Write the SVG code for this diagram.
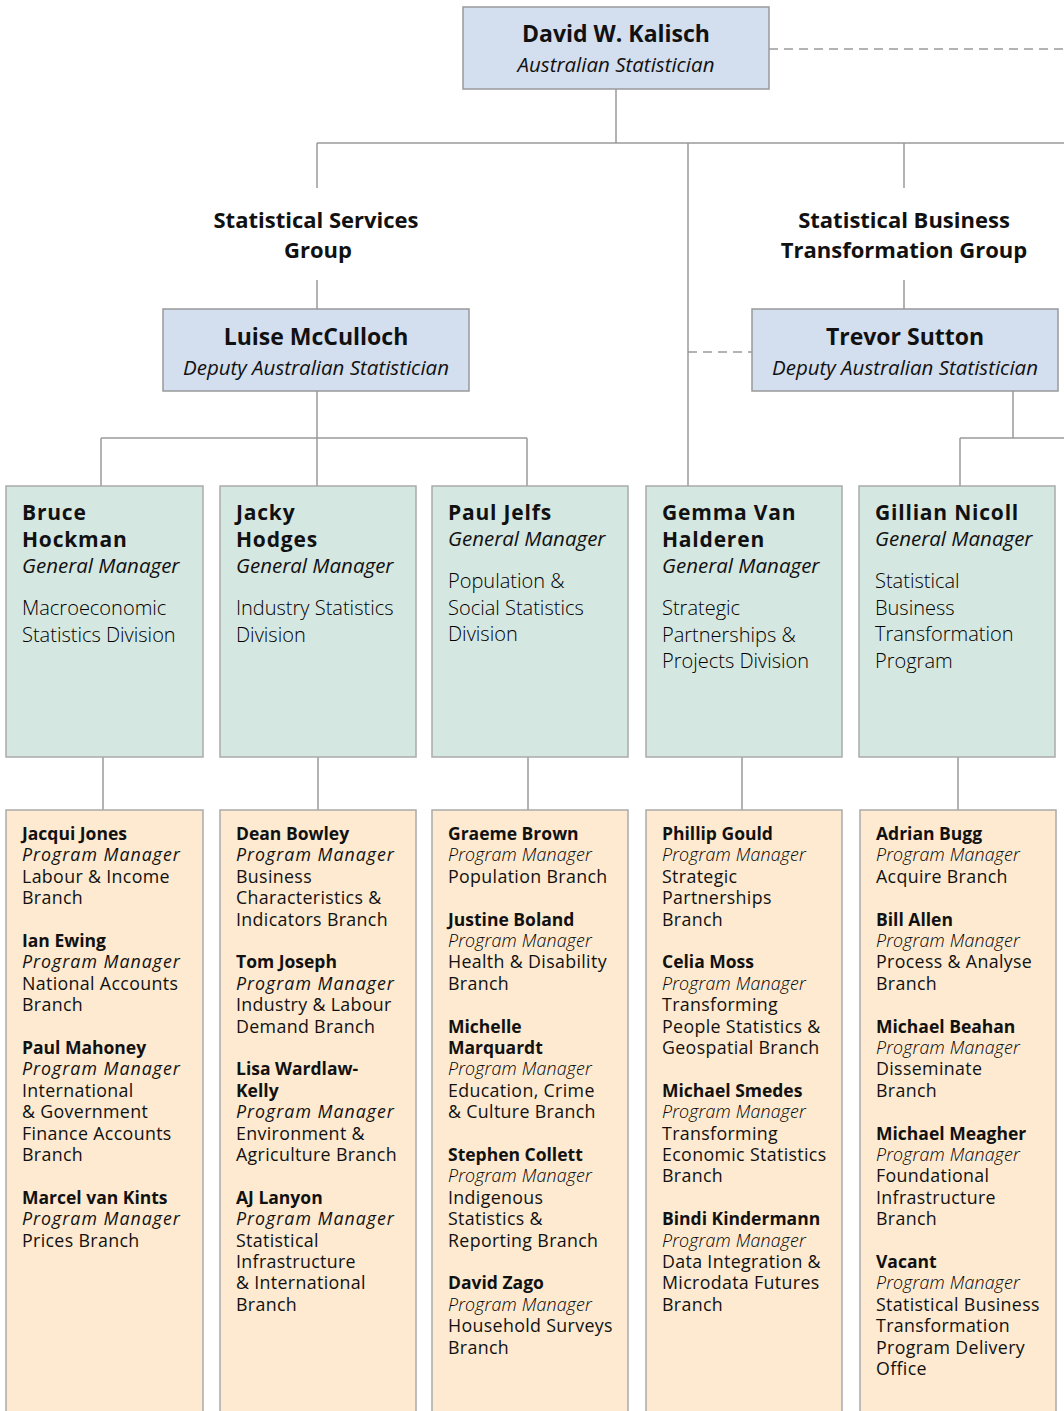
<svg xmlns="http://www.w3.org/2000/svg" width="1064" height="1411" viewBox="0 0 1064 1411">
  <style>
    text { font-family: "Open Sans", "Noto Sans", "Liberation Sans", sans-serif; fill: #111; }
    .exec { fill: #d3deee; stroke: #999; stroke-width: 1.5; }
    .gm { fill: #d5e7e1; stroke: #aaa; stroke-width: 1.5; }
    .pm { fill: #fdead0; stroke: #aaa; stroke-width: 1.5; }
    .line { stroke: #9a9a9a; stroke-width: 1.5; fill: none; }
    .dash { stroke: #9a9a9a; stroke-width: 1.5; fill: none; stroke-dasharray: 9 6; }
    .ename { font-size: 23px; font-weight: 700; text-anchor: middle; }
    .erole { font-size: 20.5px; font-style: italic; text-anchor: middle; }
    .group { font-size: 22px; font-weight: 700; text-anchor: middle; }
    .gname { font-size: 21px; font-weight: 700; letter-spacing: 0.8px; }
    .grole { font-size: 20.5px; font-style: italic; }
    .gdesc { font-size: 20px; font-weight: 300; fill: #000; }
    .b { font-size: 17.8px; letter-spacing: 0.35px; }
    .b .n { font-weight: 700; font-size: 17.5px; letter-spacing: 0; }
    .b .r { font-style: italic; letter-spacing: 1px; }
    .b .rl { font-style: italic; font-weight: 300; letter-spacing: 0.17px; fill: #000; }
  </style>

  <!-- reporting lines -->
  <g id="connectors">
    <path class="dash" d="M769 49 H1064"/>
    <path class="line" d="M616 89 V143 M317 143 H1064 M317 143 V188 M688 143 V486 M904 143 V188"/>
    <path class="line" d="M317 280 V309 M904 280 V309"/>
    <path class="dash" d="M688 352 H752"/>
    <path class="line" d="M317 391 V486 M101 438 H527 M101 438 V486 M527 438 V486"/>
    <path class="line" d="M1013 391 V438 M960 438 H1064 M960 438 V486"/>
    <path class="line" d="M103 757 V810 M318 757 V810 M528 757 V810 M742 757 V810 M958 757 V810"/>
  </g>

  <!-- executive -->
  <g id="kalisch">
    <rect class="exec" x="463" y="7" width="306" height="82"/>
    <text class="ename" x="616" y="42">David W. Kalisch</text>
    <text class="erole" x="616" y="72">Australian Statistician</text>
  </g>

  <g id="group-services">
    <text class="group" x="316" y="228">Statistical Services</text>
    <text class="group" x="318" y="258">Group</text>
  </g>
  <g id="group-transformation">
    <text class="group" x="904" y="228">Statistical Business</text>
    <text class="group" x="904" y="258">Transformation Group</text>
  </g>

  <g id="mcculloch">
    <rect class="exec" x="163" y="309" width="306" height="82"/>
    <text class="ename" x="316" y="345">Luise McCulloch</text>
    <text class="erole" x="316" y="375">Deputy Australian Statistician</text>
  </g>
  <g id="sutton">
    <rect class="exec" x="752" y="309" width="306" height="82"/>
    <text class="ename" x="905" y="345">Trevor Sutton</text>
    <text class="erole" x="905" y="375">Deputy Australian Statistician</text>
  </g>

  <!-- general managers -->
  <g id="hockman">
    <rect class="gm" x="6" y="486" width="197" height="271"/>
    <text class="gname" x="22" y="520">Bruce</text>
    <text class="gname" x="22" y="546.5">Hockman</text>
    <text class="grole" x="22" y="573">General Manager</text>
    <text class="gdesc" x="22" y="615">Macroeconomic<tspan x="22" dy="26.5">Statistics Division</tspan></text>
  </g>
  <g id="hodges">
    <rect class="gm" x="220" y="486" width="196" height="271"/>
    <text class="gname" x="236" y="520">Jacky</text>
    <text class="gname" x="236" y="546.5">Hodges</text>
    <text class="grole" x="236" y="573">General Manager</text>
    <text class="gdesc" x="236" y="615">Industry Statistics<tspan x="236" dy="26.5">Division</tspan></text>
  </g>
  <g id="jelfs">
    <rect class="gm" x="432" y="486" width="196" height="271"/>
    <text class="gname" x="448" y="520">Paul Jelfs</text>
    <text class="grole" x="448" y="546">General Manager</text>
    <text class="gdesc" x="448" y="588">Population &amp;<tspan x="448" dy="26.5">Social Statistics</tspan><tspan x="448" dy="26.5">Division</tspan></text>
  </g>
  <g id="van-halderen">
    <rect class="gm" x="646" y="486" width="196" height="271"/>
    <text class="gname" x="662" y="520">Gemma Van</text>
    <text class="gname" x="662" y="546.5">Halderen</text>
    <text class="grole" x="662" y="573">General Manager</text>
    <text class="gdesc" x="662" y="615">Strategic<tspan x="662" dy="26.5">Partnerships &amp;</tspan><tspan x="662" dy="26.5">Projects Division</tspan></text>
  </g>
  <g id="nicoll">
    <rect class="gm" x="859" y="486" width="196" height="271"/>
    <text class="gname" x="875" y="520">Gillian Nicoll</text>
    <text class="grole" x="875" y="546">General Manager</text>
    <text class="gdesc" x="875" y="588">Statistical<tspan x="875" dy="26.5">Business</tspan><tspan x="875" dy="26.5">Transformation</tspan><tspan x="875" dy="26.5">Program</tspan></text>
  </g>

  <!-- program managers -->
  <g id="macro-branches">
    <rect class="pm" x="6" y="810" width="197" height="620"/>
    <text class="b" x="22" y="840">
      <tspan class="n" x="22" dy="0">Jacqui Jones</tspan>
      <tspan class="r" x="22" dy="21.4">Program Manager</tspan>
      <tspan x="22" dy="21.4">Labour &amp; Income</tspan>
      <tspan x="22" dy="21.4">Branch</tspan>
      <tspan class="n" x="22" dy="42.8">Ian Ewing</tspan>
      <tspan class="r" x="22" dy="21.4">Program Manager</tspan>
      <tspan x="22" dy="21.4">National Accounts</tspan>
      <tspan x="22" dy="21.4">Branch</tspan>
      <tspan class="n" x="22" dy="42.8">Paul Mahoney</tspan>
      <tspan class="r" x="22" dy="21.4">Program Manager</tspan>
      <tspan x="22" dy="21.4">International</tspan>
      <tspan x="22" dy="21.4">&amp; Government</tspan>
      <tspan x="22" dy="21.4">Finance Accounts</tspan>
      <tspan x="22" dy="21.4">Branch</tspan>
      <tspan class="n" x="22" dy="42.8">Marcel van Kints</tspan>
      <tspan class="r" x="22" dy="21.4">Program Manager</tspan>
      <tspan x="22" dy="21.4">Prices Branch</tspan>
    </text>
  </g>
  <g id="industry-branches">
    <rect class="pm" x="220" y="810" width="196" height="620"/>
    <text class="b" x="236" y="840">
      <tspan class="n" x="236" dy="0">Dean Bowley</tspan>
      <tspan class="r" x="236" dy="21.4">Program Manager</tspan>
      <tspan x="236" dy="21.4">Business</tspan>
      <tspan x="236" dy="21.4">Characteristics &amp;</tspan>
      <tspan x="236" dy="21.4">Indicators Branch</tspan>
      <tspan class="n" x="236" dy="42.8">Tom Joseph</tspan>
      <tspan class="r" x="236" dy="21.4">Program Manager</tspan>
      <tspan x="236" dy="21.4">Industry &amp; Labour</tspan>
      <tspan x="236" dy="21.4">Demand Branch</tspan>
      <tspan class="n" x="236" dy="42.8">Lisa Wardlaw-</tspan>
      <tspan class="n" x="236" dy="21.4">Kelly</tspan>
      <tspan class="r" x="236" dy="21.4">Program Manager</tspan>
      <tspan x="236" dy="21.4">Environment &amp;</tspan>
      <tspan x="236" dy="21.4">Agriculture Branch</tspan>
      <tspan class="n" x="236" dy="42.8">AJ Lanyon</tspan>
      <tspan class="r" x="236" dy="21.4">Program Manager</tspan>
      <tspan x="236" dy="21.4">Statistical</tspan>
      <tspan x="236" dy="21.4">Infrastructure</tspan>
      <tspan x="236" dy="21.4">&amp; International</tspan>
      <tspan x="236" dy="21.4">Branch</tspan>
    </text>
  </g>
  <g id="population-branches">
    <rect class="pm" x="432" y="810" width="196" height="620"/>
    <text class="b" x="448" y="840">
      <tspan class="n" x="448" dy="0">Graeme Brown</tspan>
      <tspan class="rl" x="448" dy="21.4">Program Manager</tspan>
      <tspan x="448" dy="21.4">Population Branch</tspan>
      <tspan class="n" x="448" dy="42.8">Justine Boland</tspan>
      <tspan class="rl" x="448" dy="21.4">Program Manager</tspan>
      <tspan x="448" dy="21.4">Health &amp; Disability</tspan>
      <tspan x="448" dy="21.4">Branch</tspan>
      <tspan class="n" x="448" dy="42.8">Michelle</tspan>
      <tspan class="n" x="448" dy="21.4">Marquardt</tspan>
      <tspan class="rl" x="448" dy="21.4">Program Manager</tspan>
      <tspan x="448" dy="21.4">Education, Crime</tspan>
      <tspan x="448" dy="21.4">&amp; Culture Branch</tspan>
      <tspan class="n" x="448" dy="42.8">Stephen Collett</tspan>
      <tspan class="rl" x="448" dy="21.4">Program Manager</tspan>
      <tspan x="448" dy="21.4">Indigenous</tspan>
      <tspan x="448" dy="21.4">Statistics &amp;</tspan>
      <tspan x="448" dy="21.4">Reporting Branch</tspan>
      <tspan class="n" x="448" dy="42.8">David Zago</tspan>
      <tspan class="rl" x="448" dy="21.4">Program Manager</tspan>
      <tspan x="448" dy="21.4">Household Surveys</tspan>
      <tspan x="448" dy="21.4">Branch</tspan>
    </text>
  </g>
  <g id="partnerships-branches">
    <rect class="pm" x="646" y="810" width="196" height="620"/>
    <text class="b" x="662" y="840">
      <tspan class="n" x="662" dy="0">Phillip Gould</tspan>
      <tspan class="rl" x="662" dy="21.4">Program Manager</tspan>
      <tspan x="662" dy="21.4">Strategic</tspan>
      <tspan x="662" dy="21.4">Partnerships</tspan>
      <tspan x="662" dy="21.4">Branch</tspan>
      <tspan class="n" x="662" dy="42.8">Celia Moss</tspan>
      <tspan class="rl" x="662" dy="21.4">Program Manager</tspan>
      <tspan x="662" dy="21.4">Transforming</tspan>
      <tspan x="662" dy="21.4">People Statistics &amp;</tspan>
      <tspan x="662" dy="21.4">Geospatial Branch</tspan>
      <tspan class="n" x="662" dy="42.8">Michael Smedes</tspan>
      <tspan class="rl" x="662" dy="21.4">Program Manager</tspan>
      <tspan x="662" dy="21.4">Transforming</tspan>
      <tspan x="662" dy="21.4">Economic Statistics</tspan>
      <tspan x="662" dy="21.4">Branch</tspan>
      <tspan class="n" x="662" dy="42.8">Bindi Kindermann</tspan>
      <tspan class="rl" x="662" dy="21.4">Program Manager</tspan>
      <tspan x="662" dy="21.4">Data Integration &amp;</tspan>
      <tspan x="662" dy="21.4">Microdata Futures</tspan>
      <tspan x="662" dy="21.4">Branch</tspan>
    </text>
  </g>
  <g id="transformation-branches">
    <rect class="pm" x="860" y="810" width="196" height="620"/>
    <text class="b" x="876" y="840">
      <tspan class="n" x="876" dy="0">Adrian Bugg</tspan>
      <tspan class="rl" x="876" dy="21.4">Program Manager</tspan>
      <tspan x="876" dy="21.4">Acquire Branch</tspan>
      <tspan class="n" x="876" dy="42.8">Bill Allen</tspan>
      <tspan class="rl" x="876" dy="21.4">Program Manager</tspan>
      <tspan x="876" dy="21.4">Process &amp; Analyse</tspan>
      <tspan x="876" dy="21.4">Branch</tspan>
      <tspan class="n" x="876" dy="42.8">Michael Beahan</tspan>
      <tspan class="rl" x="876" dy="21.4">Program Manager</tspan>
      <tspan x="876" dy="21.4">Disseminate</tspan>
      <tspan x="876" dy="21.4">Branch</tspan>
      <tspan class="n" x="876" dy="42.8">Michael Meagher</tspan>
      <tspan class="rl" x="876" dy="21.4">Program Manager</tspan>
      <tspan x="876" dy="21.4">Foundational</tspan>
      <tspan x="876" dy="21.4">Infrastructure</tspan>
      <tspan x="876" dy="21.4">Branch</tspan>
      <tspan class="n" x="876" dy="42.8">Vacant</tspan>
      <tspan class="rl" x="876" dy="21.4">Program Manager</tspan>
      <tspan x="876" dy="21.4">Statistical Business</tspan>
      <tspan x="876" dy="21.4">Transformation</tspan>
      <tspan x="876" dy="21.4">Program Delivery</tspan>
      <tspan x="876" dy="21.4">Office</tspan>
    </text>
  </g>
</svg>
